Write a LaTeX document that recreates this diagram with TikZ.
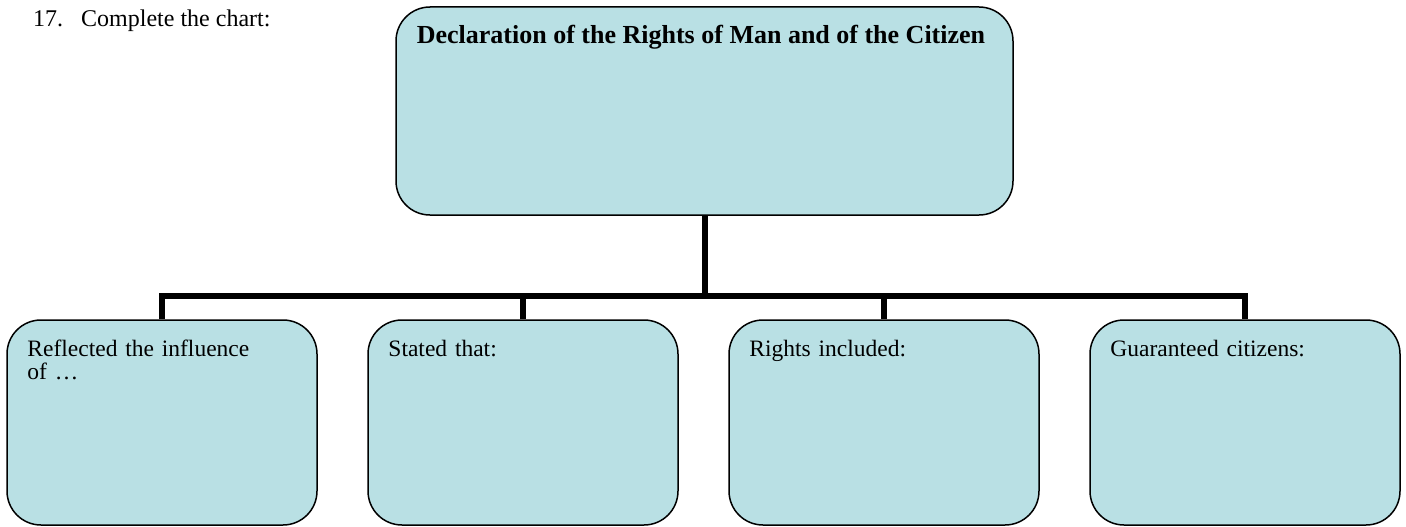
\documentclass[tikz,border=0pt]{standalone}
\usepackage{fontspec}
\setmainfont{Liberation Serif}
\usetikzlibrary{calc}
\definecolor{boxfill}{RGB}{185,224,228}
\begin{document}
\begin{tikzpicture}[x=1pt,y=-1pt,
  chartbox/.style={draw=black, line width=1.5pt, fill=boxfill, rounded corners=34pt, inner sep=0pt},
  conn/.style={line width=6pt, draw=black},
  boxtext/.style={anchor=base west, inner sep=0pt, text width=280pt, align=left, font=\fontsize{23.5}{23}\selectfont}]
\useasboundingbox (0,0) rectangle (1406,527);
\node[chartbox, minimum width=617pt, minimum height=208pt] (top) at (704.5,111) {};
\node[chartbox, minimum width=310pt, minimum height=205pt] (b1) at (162,422.5) {};
\node[chartbox, minimum width=310pt, minimum height=205pt] (b2) at (523,422.5) {};
\node[chartbox, minimum width=310pt, minimum height=205pt] (b3) at (884,422.5) {};
\node[chartbox, minimum width=310pt, minimum height=205pt] (b4) at (1245,422.5) {};
\coordinate (j) at (704.5,296);
\draw[conn] (top.south) -- (j);
\draw[conn] (b1.north) -- (b1.north |- j) -- (b4.north |- j) -- (b4.north);
\draw[conn] (b2.north) -- (b2.north |- j);
\draw[conn] (b3.north) -- (b3.north |- j);
\node[anchor=base, inner sep=0pt, font=\fontsize{26}{26}\selectfont\bfseries] (title) at ($(top.north)+(-3.5,37)$) {Declaration of the Rights of Man and of the Citizen};
\node[boxtext] (t1) at ($(b1.north west)+(21,37)$) {Reflected the influence\\of \ldots};
\node[boxtext] (t2) at ($(b2.north west)+(21,37)$) {Stated that:};
\node[boxtext] (t3) at ($(b3.north west)+(21,37)$) {Rights included:};
\node[boxtext] (t4) at ($(b4.north west)+(21,37)$) {Guaranteed citizens:};
\node[anchor=base west, inner sep=0pt, font=\fontsize{24}{24}\selectfont] (num) at (33,27) {17.};
\node[anchor=base west, inner sep=0pt, font=\fontsize{24}{24}\selectfont] (q) at (81,27) {Complete the chart:};
\end{tikzpicture}
\end{document}
